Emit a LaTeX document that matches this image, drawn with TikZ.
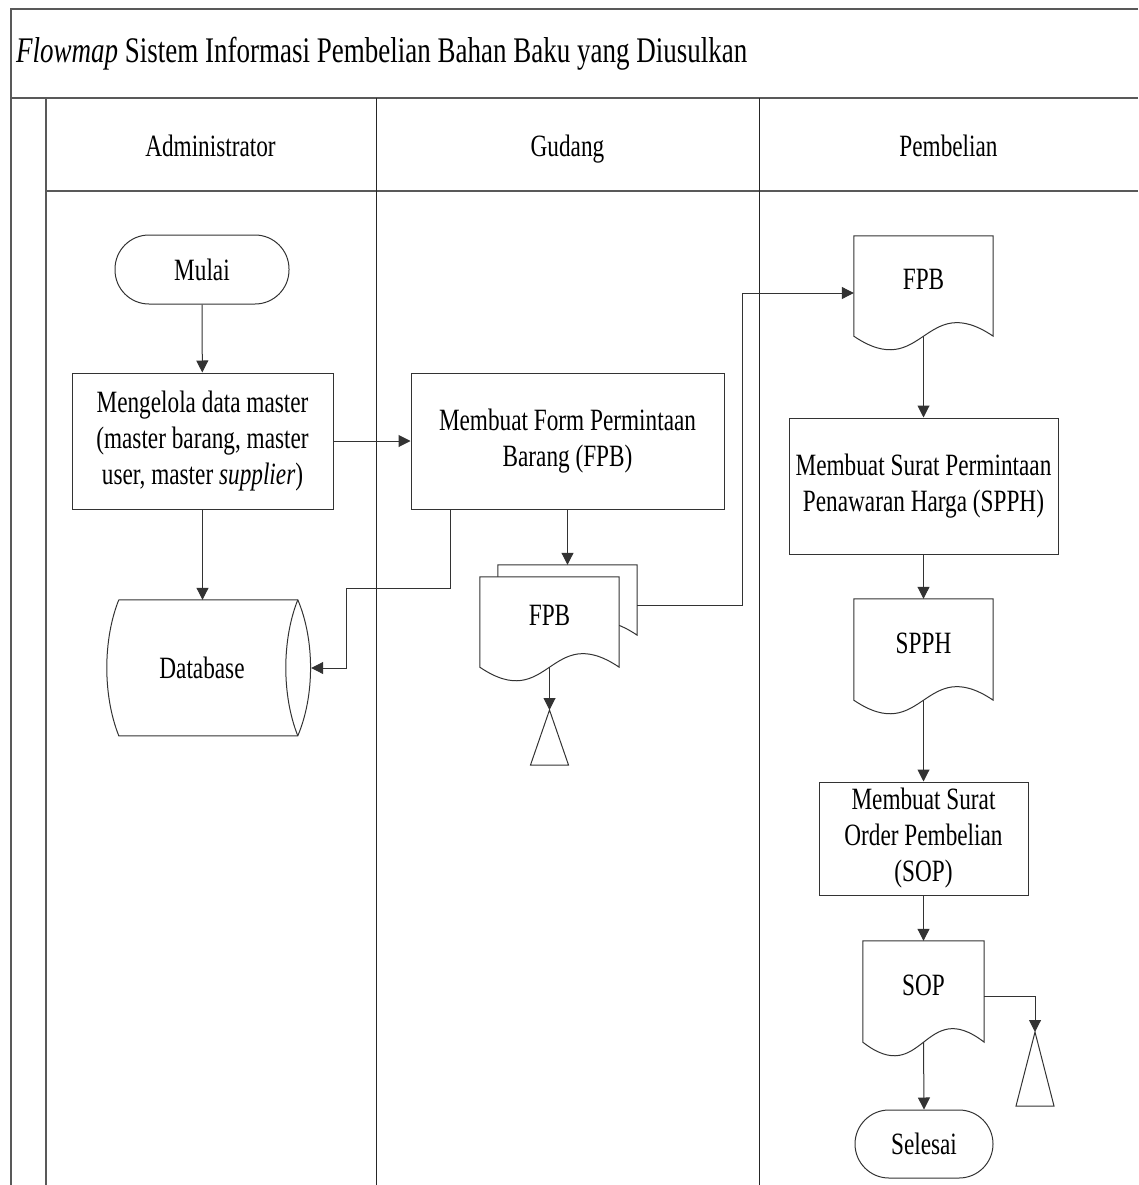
\documentclass[tikz,border=0pt]{standalone}
\usepackage{fontspec}
\setmainfont{Liberation Serif}[FakeStretch=0.75]
\usetikzlibrary{arrows.meta,calc,backgrounds}
\tikzset{
  frame/.style={line width=1.8pt, draw=black!65},
  lane/.style={line width=1pt, draw=black!85},
  shapeline/.style={line width=1pt, draw=black!80},
  txt/.style={font=\fontsize{31}{36}\selectfont, align=center, inner sep=0pt},
  hdr/.style={txt, text height=21pt, text depth=7pt},
  procbox/.style={txt, shapeline, draw, rectangle},
  termbox/.style={txt, shapeline, draw, rectangle, rounded corners=34pt},
  docnode/.style={txt, text height=21pt, text depth=14pt},
  arrow/.style={line width=1pt, draw=black!80, -{Triangle[length=12pt,width=12pt]}},
  plain/.style={line width=1pt, draw=black!80}
}
\newcommand{\docwave}[1]{%
  \draw[shapeline, fill=white] (#1.south west) -- (#1.north west) -- (#1.north east) -- (#1.south east)
    .. controls ($(#1.south)+(0,-47)$) and ($(#1.south)+(0,47)$) .. (#1.south west) -- cycle;}
\begin{document}
\begin{tikzpicture}[x=1pt,y=-1pt]
\useasboundingbox (0,0) rectangle (1138,1185);
% frame and lanes
\draw[frame] (1138,9) -- (11,9) -- (11,1185);
\draw[frame] (11,98) -- (1138,98);
\draw[frame] (45.7,98) -- (45.7,1185);
\draw[frame] (45.7,191) -- (1138,191);
\draw[lane] (376.5,98) -- (376.5,1185);
\draw[lane] (759,98) -- (759,1185);
% title and headers
\node[anchor=west, inner sep=0pt, font=\fontsize{36}{40}\selectfont] (title) at (16,53.5) {\textit{Flowmap} Sistem Informasi Pembelian Bahan Baku yang Diusulkan};
\node[hdr] (h1) at (210.5,150) {Administrator};
\node[hdr] (h2) at (567.5,150) {Gudang};
\node[hdr] (h3) at (948.5,150) {Pembelian};
% Administrator
\node[termbox, minimum width=174pt, minimum height=69pt] (mulai) at (202,269.5) {Mulai};
\node[procbox, minimum width=261pt, minimum height=136pt] (kelola) at (202.5,441) {Mengelola data master\\(master barang, master\\user, master \textit{supplier})};
\node[txt, minimum width=204pt, minimum height=136pt] (db) at (209,668) {\hspace*{-14pt}Database};
\begin{scope}[shift={(db.north west)}]
  \draw[shapeline] (12,0) -- (191,0) .. controls (208,40) and (208,96) .. (191,136) -- (12,136)
     .. controls (-4,96) and (-4,40) .. (12,0);
  \draw[shapeline] (191,0) .. controls (175,40) and (175,96) .. (191,136);
\end{scope}
% Gudang
\node[procbox, minimum width=313pt, minimum height=136pt] (fpbbox) at (567.5,441) {Membuat Form Permintaan\\Barang (FPB)};
\node[txt, minimum width=139pt, minimum height=70pt] (fpbback) at (567.5,600) {};
\node[docnode, minimum width=139pt, minimum height=90pt] (fpbfront) at (549.5,622) {FPB};
\coordinate (tri1) at (549.5,710);
\draw[shapeline] (tri1) -- ++(-19,55) -- ++(38,0) -- cycle;
% Pembelian
\node[docnode, minimum width=139pt, minimum height=100pt] (fpbdoc) at (923.5,286) {FPB};
\node[procbox, minimum width=269pt, minimum height=136pt] (spphbox) at (923.5,486) {Membuat Surat Permintaan\\Penawaran Harga (SPPH)};
\node[docnode, minimum width=139pt, minimum height=101pt] (spphdoc) at (923.5,649.5) {SPPH};
\node[procbox, minimum width=209pt, minimum height=113pt] (sopbox) at (923.5,838.5) {Membuat Surat\\Order Pembelian\\(SOP)};
\node[docnode, minimum width=121pt, minimum height=101pt] (sopdoc) at (923.5,991.5) {SOP};
\coordinate (tri2) at (1035,1032);
\draw[shapeline] (tri2) -- ++(-19,74) -- ++(38,0) -- cycle;
\node[termbox, minimum width=138pt, minimum height=68pt] (selesai) at (924,1144) {Selesai};
% document outlines on background
\begin{pgfonlayer}{background}
  \docwave{fpbback}
  \docwave{fpbfront}
  \docwave{fpbdoc}
  \docwave{spphdoc}
  \docwave{sopdoc}
\end{pgfonlayer}
% connectors
\coordinate (k1) at (346,588);
\coordinate (k2) at (742,293);
\draw[arrow] (mulai) -- (kelola);
\draw[arrow] (kelola.south) -- (kelola.south |- db.north);
\draw[arrow] (kelola.east) -- (fpbbox.west);
\draw[arrow] ($(fpbbox.south west)+(40,0)$) |- (k1) |- (db.east);
\draw[arrow] (fpbbox.south) -- (fpbback.north);
\draw[arrow] ([yshift=-5pt]fpbback.east) -| (k2) -- (k2 -| fpbdoc.west);
\draw[arrow] (fpbfront.south) -- (tri1);
\draw[arrow] (fpbdoc.south) -- (spphbox.north);
\draw[arrow] (spphbox.south) -- (spphdoc.north);
\draw[arrow] (spphdoc.south) -- (sopbox.north);
\draw[arrow] (sopbox.south) -- (sopdoc.north);
\draw[arrow] ([yshift=-5pt]sopdoc.east) -| (tri2);
\draw[arrow] (sopdoc.south) -- (selesai.north);
\end{tikzpicture}
\end{document}
